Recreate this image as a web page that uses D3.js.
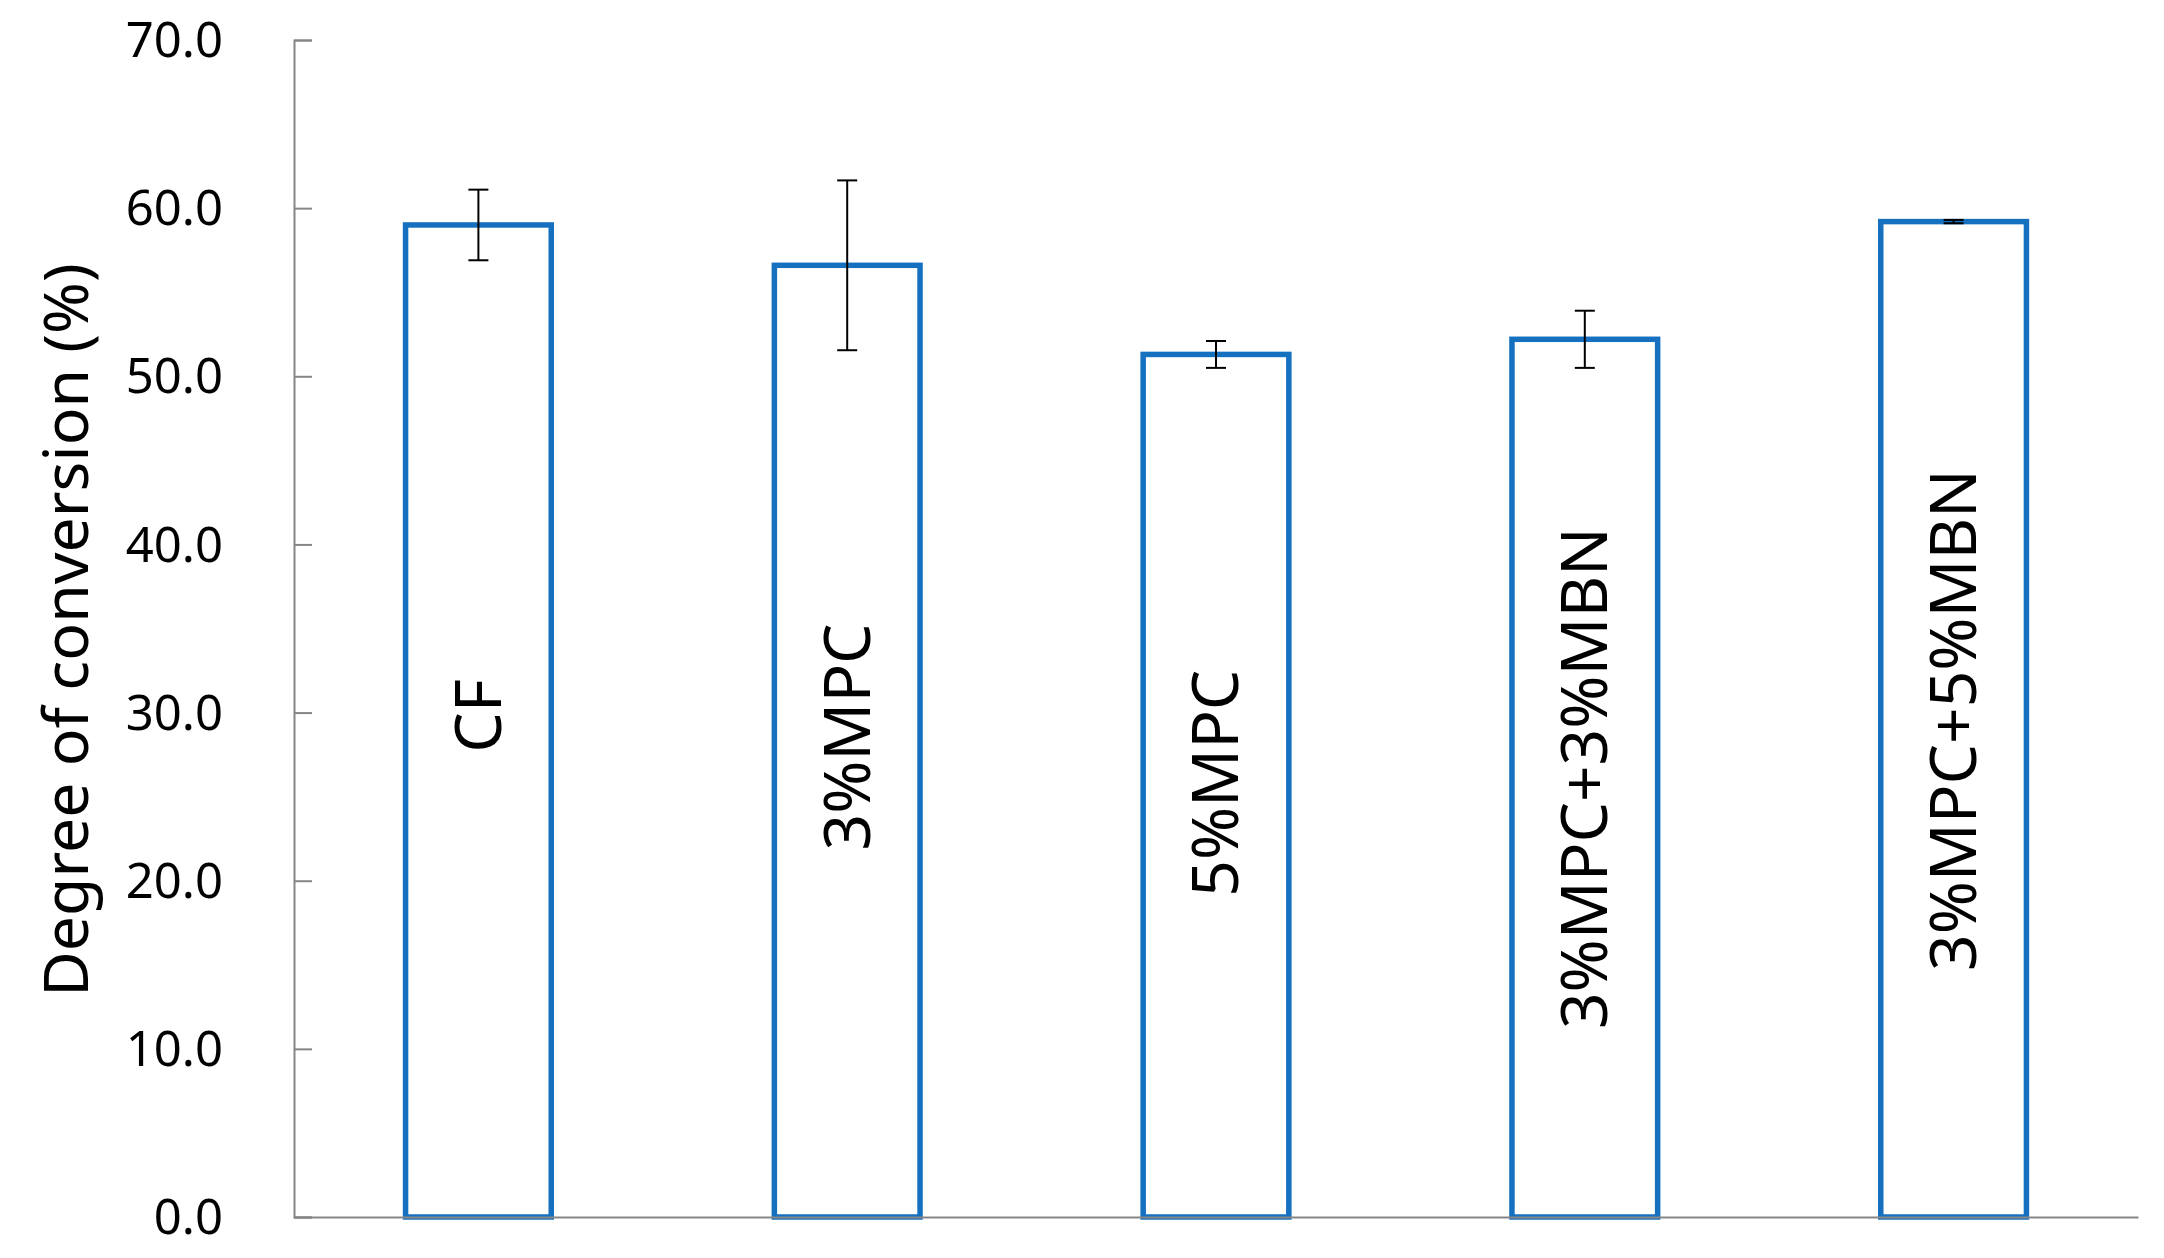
<!DOCTYPE html>
<html>
<head>
<meta charset="utf-8">
<script src="https://cdn.jsdelivr.net/npm/d3@7"></script>
<style>
  body { margin: 0; background: #fff; }
  text { font-family: "Noto Sans", "Open Sans", sans-serif; fill: #000; }
</style>
</head>
<body>
<div id="chart"></div>
<script>
// data
var categories = ["CF", "3%MPC", "5%MPC", "3%MPC+3%MBN", "3%MPC+5%MBN"];
var means = [59.0, 56.6, 51.3, 52.2, 59.2];
var errors = [2.1, 5.05, 0.8, 1.7, 0.1];
var yTicks = [0, 10, 20, 30, 40, 50, 60, 70];

// where each rotated category name sits, in axis units (labels were placed by hand)
var labelMid = [29.8, 28.55, 25.8, 26.1, 29.55];

var W = 2164, H = 1258;
var plotLeft = 294, plotRight = 2138, plotTop = 40, plotBottom = 1217;

const svg = d3.select("#chart")
    .append("svg")
    .attr("width", W)
    .attr("height", H);

var x = d3.scaleBand()
    .domain(categories)
    .range([plotLeft, plotRight])
    .paddingInner(0.605)
    .paddingOuter(0.3025);

var y = d3.scaleLinear()
    .domain([0, 70])
    .range([plotBottom, plotTop]);

//Y AXIS, TICKS POINT INTO THE PLOT
var yAxis = svg.append("g")
    .attr("transform", "translate(" + plotLeft + ",0)")
    .call(d3.axisRight(y).tickValues(yTicks).tickSize(18).tickFormat(""));
yAxis.select(".domain").attr("stroke", "#868686").attr("stroke-width", 2);
yAxis.selectAll(".tick line").attr("stroke", "#868686").attr("stroke-width", 2);

//TICK LABELS
svg.append("g").selectAll("text")
    .data(yTicks)
    .join("text")
    .attr("x", plotLeft - 71)
    .attr("y", d => y(d))
    .attr("dy", "0.35em")
    .attr("text-anchor", "end")
    .style("font-size", "49px")
    .text(d => d3.format(".1f")(d));

//BARS
svg.append("g").selectAll("rect")
    .data(means)
    .join("rect")
    .attr("x", (d, i) => x(categories[i]))
    .attr("y", d => y(d))
    .attr("width", x.bandwidth())
    .attr("height", d => y(0) - y(d))
    .attr("fill", "#fff")
    .attr("stroke", "#1570c0")
    .attr("stroke-width", 5.5);

//X AXIS LINE
svg.append("g")
    .attr("transform", "translate(0," + plotBottom + ")")
    .call(d3.axisBottom(x).tickSize(0).tickFormat(""))
    .select(".domain")
    .attr("stroke", "#868686")
    .attr("stroke-width", 2);

//ERROR BARS
var eb = svg.append("g").attr("stroke", "#000").attr("stroke-width", 2);
means.forEach(function(m, i){
    var cx = x(categories[i]) + x.bandwidth() / 2;
    var y1 = y(m + errors[i]);
    var y2 = y(m - errors[i]);
    eb.append("line").attr("x1", cx).attr("x2", cx).attr("y1", y1).attr("y2", y2);
    eb.append("line").attr("x1", cx - 10).attr("x2", cx + 10).attr("y1", y1).attr("y2", y1);
    eb.append("line").attr("x1", cx - 10).attr("x2", cx + 10).attr("y1", y2).attr("y2", y2);
});

//CATEGORY NAMES, ROTATED INSIDE THE BARS
svg.append("g").selectAll("text")
    .data(categories)
    .join("text")
    .attr("transform", (d, i) => "translate(" + (x(d) + x.bandwidth() / 2) + "," + y(labelMid[i]) + ") rotate(-90)")
    .attr("text-anchor", "middle")
    .attr("dy", "0.35em")
    .style("font-size", "64px")
    .text(d => d);

//Y AXIS TITLE
svg.append("text")
    .attr("transform", "translate(66," + 630 + ") rotate(-90)")
    .attr("text-anchor", "middle")
    .attr("dy", "0.35em")
    .style("font-size", "62.5px")
    .text("Degree of conversion (%)");
</script>
</body>
</html>
